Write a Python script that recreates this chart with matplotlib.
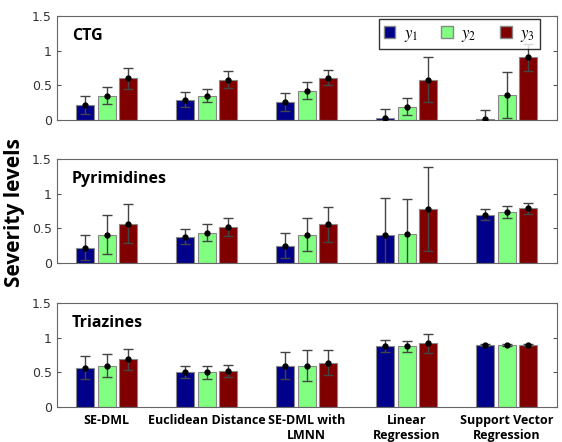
import numpy as np
import matplotlib
matplotlib.use('Agg')
import matplotlib.pyplot as plt
from matplotlib.patches import Patch

plt.rcParams['mathtext.fontset']='stix'

#methods on the x axis
methods=['SE-DML','Euclidean Distance','SE-DML with\nLMNN','Linear\nRegression','Support Vector\nRegression']
panels=['CTG','Pyrimidines','Triazines']
series=['$y_1$','$y_2$','$y_3$']
colors=['#00008B','#80FF80','#800000']

#mean severity per panel: rows are y1,y2,y3, columns are methods
ctgMean=[[0.22,0.29,0.25,0.03,0.01],
	[0.35,0.35,0.42,0.19,0.36],
	[0.60,0.58,0.61,0.58,0.90]]
ctgErr=[[0.13,0.11,0.13,0.12,0.13],
	[0.12,0.09,0.12,0.12,0.33],
	[0.15,0.12,0.11,0.32,0.20]]
pyrMean=[[0.22,0.38,0.25,0.41,0.70],
	[0.41,0.44,0.41,0.42,0.74],
	[0.57,0.52,0.56,0.78,0.79]]
pyrErr=[[0.18,0.11,0.18,0.53,0.08],
	[0.28,0.12,0.24,0.51,0.09],
	[0.28,0.13,0.25,0.61,0.08]]
triMean=[[0.57,0.51,0.60,0.88,0.89],
	[0.60,0.50,0.60,0.88,0.89],
	[0.69,0.52,0.64,0.92,0.89]]
triErr=[[0.17,0.09,0.20,0.09,0.015],
	[0.17,0.09,0.23,0.08,0.015],
	[0.15,0.09,0.18,0.14,0.015]]

means=[ctgMean,pyrMean,triMean]
errs=[ctgErr,pyrErr,triErr]

fig=plt.figure(figsize=(5.62,4.42),dpi=100)
bottoms=[0.729,0.405,0.079]
x=np.arange(1,len(methods)+1)
offsets=[-0.215,0,0.215]
w=0.18
axes=[]
for p in range(3):
	ax=fig.add_axes([0.101,bottoms[p],0.89,0.235])
	axes.append(ax)
	for s in range(3):
		m=np.array(means[p][s])
		e=np.array(errs[p][s])
		ax.bar(x+offsets[s],m,w,color=colors[s],edgecolor='#888888',linewidth=0.8,zorder=2)
		ax.errorbar(x+offsets[s],m,yerr=e,fmt='o',color='black',ecolor='#444444',
			markersize=3.5,capsize=3.5,elinewidth=1,capthick=1,zorder=3)
	ax.set_xlim(0.5,5.5)
	ax.set_ylim(0,1.5)
	ax.set_yticks([0,0.5,1,1.5])
	ax.set_yticklabels(['0','0.5','1','1.5'])
	ax.tick_params(axis='y',direction='in',right=True,length=3,labelsize=9,colors='#555555',labelcolor='#333333')
	ax.tick_params(axis='x',length=0,pad=5)
	for sp in ax.spines.values():
		sp.set_color('#666666')
		sp.set_linewidth(0.8)
	ax.text(0.03,0.77,panels[p],transform=ax.transAxes,fontsize=11.5,fontweight='bold',family='Open Sans')
	if p<2:
		ax.set_xticks([])
	else:
		ax.set_xticks(x)
		ax.set_xticklabels(methods,fontsize=9,fontweight='bold',family='Open Sans',va='top')

handles=[Patch(facecolor=colors[i],edgecolor='#888888',label=series[i]) for i in range(3)]
leg=axes[0].legend(handles=handles,ncol=3,loc='upper right',bbox_to_anchor=(0.966,0.975),
	fancybox=False,edgecolor='black',handlelength=0.7,handleheight=0.7,
	columnspacing=1.4,handletextpad=0.5,borderpad=0.3,borderaxespad=0,prop={'size':12})
leg.get_frame().set_linewidth(1)

fig.text(0.025,0.52,'Severity levels',rotation=90,ha='center',va='center',fontsize=15,fontweight='bold',family='Open Sans')

plt.savefig('out.png',dpi=100)
